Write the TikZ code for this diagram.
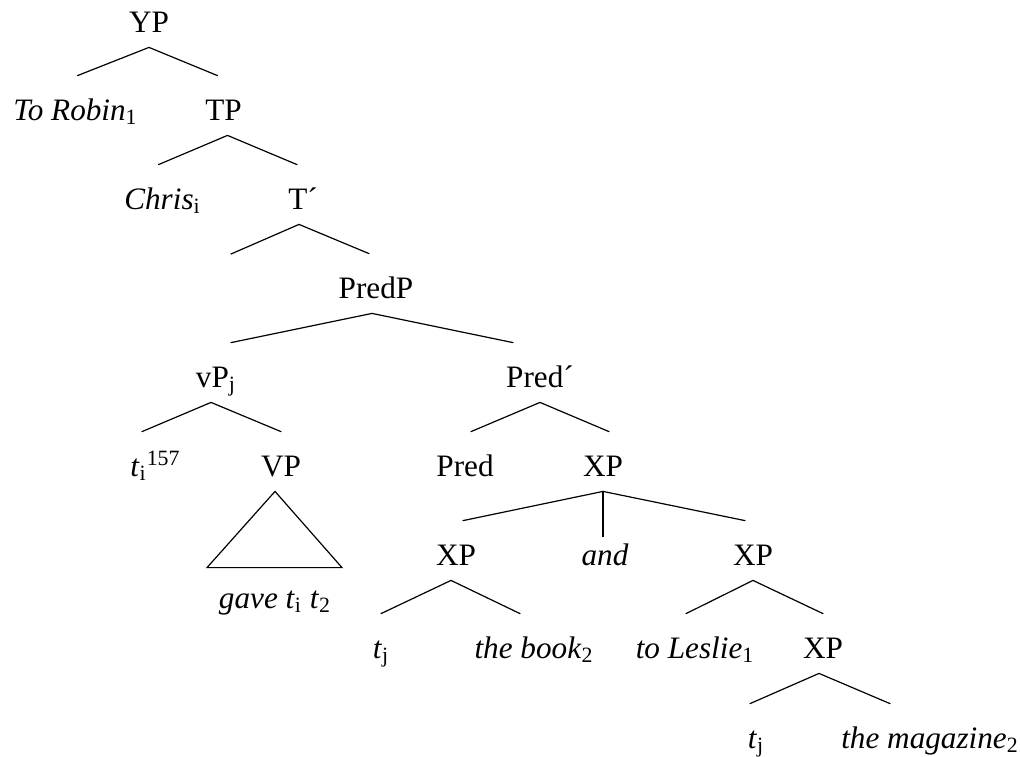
\documentclass[tikz,border=0pt]{standalone}
\usepackage{fontspec}
\setmainfont{Liberation Serif}
\usepackage{tikz}
\newcommand{\subsc}[1]{\textsubscript{\normalfont #1}}
\newcommand{\supsc}[1]{\textsuperscript{\normalfont #1}}

\begin{document}
\begin{tikzpicture}[x=0.5pt, y=-0.5pt,
    font=\fontsize{15.6}{19}\selectfont,
    syn/.style={anchor=base, inner sep=0pt, text height=22pt, text depth=7.5pt},
    branch/.style={line width=0.6pt, line cap=round}
]
\useasboundingbox (0,0) rectangle (1020,756);

        % categories and words, placed at their baselines
        \node[syn, name=YP] at(149,32) {YP};
        \node[syn, name=robin] at(75.5,120) {\textit{To Robin}\subsc{1}};
        \node[syn, name=TP] at(223.5,120) {TP};
        \node[syn, name=chris] at(162.5,209) {\textit{Chris}\subsc{i}};
        \node[syn, name=tbar] at(303,209) {T´};
        \coordinate (tbarspec) at (231,254);
        \node[syn, name=predp] at(376,298) {PredP};
        \node[syn, name=vp] at(216,387) {vP\subsc{j}};
        \node[syn, name=predbar] at(540,387) {Pred´};
        \node[syn, name=ti] at(155.5,476) {\textit{t}\subsc{i}\supsc{157}};
        \node[syn, name=VP] at(281,476) {VP};
        \node[syn, name=gave] at(275,608) {\textit{gave t}\subsc{i} \textit{t}\subsc{2}};
        \node[syn, name=pred] at(465,476) {Pred};
        \node[syn, name=xp] at(603,476) {XP};
        \node[syn, name=xpl] at(456,565) {XP};
        \node[syn, name=and] at(605,565) {\textit{and}};
        \node[syn, name=xpr] at(753,565) {XP};
        \node[syn, name=tjl] at(381,658) {\textit{t}\subsc{j}};
        \node[syn, name=book] at(534,658) {\textit{the book}\subsc{2}};
        \node[syn, name=leslie] at(695,658) {\textit{to Leslie}\subsc{1}};
        \node[syn, name=xpb] at(823,658) {XP};
        \node[syn, name=tjr] at(756,748) {\textit{t}\subsc{j}};
        \node[syn, name=magazine] at(930,748) {\textit{the magazine}\subsc{2}};

        % branches
        \draw[branch] (YP.south) -- ([xshift=1pt]robin.north);
        \draw[branch] (YP.south) -- ([xshift=-3pt]TP.north);
        \draw[branch] ([xshift=2pt]TP.south) -- ([xshift=-2pt]chris.north);
        \draw[branch] ([xshift=2pt]TP.south) -- ([xshift=-3pt]tbar.north);
        \draw[branch] ([xshift=-2pt]tbar.south) -- (tbarspec);
        \draw[branch] ([xshift=-2pt]tbar.south) -- ([xshift=-3.5pt]predp.north);
        \draw[branch] ([xshift=-2pt]predp.south) -- ([xshift=7.5pt]vp.north);
        \draw[branch] ([xshift=-2pt]predp.south) -- ([xshift=-13.5pt]predbar.north);
        \draw[branch] ([xshift=-2.5pt]vp.south) -- ([xshift=-6.75pt]ti.north);
        \draw[branch] ([xshift=-2.5pt]vp.south) -- (VP.north);
        \draw[branch, line join=miter] ([xshift=-3pt]VP.south) -- ([shift={(-34pt,-2pt)}]gave.north) -- ([shift={(33.5pt,-2pt)}]gave.north) -- cycle;
        \draw[branch] (predbar.south) -- ([xshift=3pt]pred.north);
        \draw[branch] (predbar.south) -- ([xshift=3pt]xp.north);
        \draw[branch] (xp.south) -- ([xshift=3.5pt]xpl.north);
        \draw[branch, shorten >=-8pt] (xp.south) -- (xp.south |- and.north);
        \draw[branch] (xp.south) -- ([xshift=-4pt]xpr.north);
        \draw[branch] ([xshift=-2.5pt]xpl.south) -- (tjl.north);
        \draw[branch] ([xshift=-2.5pt]xpl.south) -- ([xshift=-7pt]book.north);
        \draw[branch] (xpr.south) -- ([xshift=-4.5pt]leslie.north);
        \draw[branch] (xpr.south) -- (xpb.north);
        \draw[branch] ([xshift=-2pt]xpb.south) -- ([xshift=-3pt]tjr.north);
        \draw[branch] ([xshift=-2pt]xpb.south) -- ([xshift=-20pt]magazine.north);

\end{tikzpicture}
\end{document}
